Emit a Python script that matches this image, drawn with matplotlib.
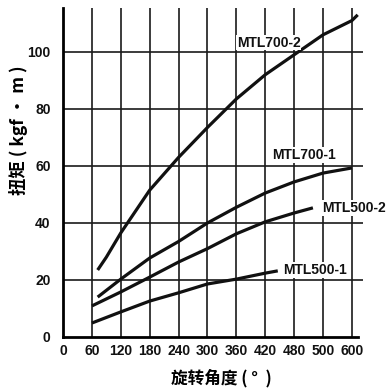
import matplotlib
matplotlib.use('Agg')
import matplotlib.pyplot as plt

# angle ticks (the 540 position is printed as "500" in the source chart)
x_ticks = [0, 60, 120, 180, 240, 300, 360, 420, 480, 540, 600]
x_tick_labels = ['0', '60', '120', '180', '240', '300', '360', '420', '480', '500', '600']
y_ticks = [0, 20, 40, 60, 80, 100]

# curves
mtl700_2_x = [72, 90, 120, 150, 180, 240, 300, 360, 420, 480, 540, 600, 612]
mtl700_2_y = [23.5, 28, 36.5, 44, 51.5, 63, 73.5, 83.5, 92, 99, 106, 111, 113]

mtl700_1_x = [72, 120, 180, 240, 300, 360, 420, 480, 540, 600]
mtl700_1_y = [14, 20.3, 27.7, 33.5, 40, 45.5, 50.5, 54.4, 57.5, 59.3]

mtl500_2_x = [60, 120, 180, 240, 300, 360, 420, 480, 519]
mtl500_2_y = [10.9, 15.8, 21, 26.3, 31, 36.2, 40.4, 43.5, 45.3]

mtl500_1_x = [60, 120, 180, 240, 300, 360, 420, 446]
mtl500_1_y = [4.9, 8.8, 12.6, 15.5, 18.6, 20.3, 22.4, 23.2]

names = ['MTL700-2', 'MTL700-1', 'MTL500-2', 'MTL500-1']
label_x = [361, 434, 538, 457]
label_y = [103.2, 63.9, 45.3, 23.5]

cjk = ['Noto Sans CJK SC', 'DejaVu Sans']
num_font = 'Liberation Sans'

fig = plt.figure(figsize=(3.87, 3.88), dpi=100)
ax = fig.add_axes([63 / 387, 51 / 388, 300 / 387, 329 / 388])

ax.set_xlim(0, 623)
ax.set_ylim(0, 115.4)

for xv in x_ticks[1:]:
    ax.axvline(xv, color='#1a1a1a', lw=1.2, zorder=1)
for yv in y_ticks[1:]:
    ax.axhline(yv, color='#1a1a1a', lw=1.2, zorder=1)

for xs, ys in [(mtl700_2_x, mtl700_2_y), (mtl700_1_x, mtl700_1_y),
               (mtl500_2_x, mtl500_2_y), (mtl500_1_x, mtl500_1_y)]:
    ax.plot(xs, ys, color='#111111', lw=2.3, solid_capstyle='butt', zorder=3)

for name, tx, ty in zip(names, label_x, label_y):
    ax.text(tx, ty, name, fontsize=10, fontweight='bold', family=num_font,
            color='#111111', ha='left', va='center', zorder=4,
            bbox=dict(facecolor='white', edgecolor='none', pad=0.5))

ax.spines['top'].set_visible(False)
ax.spines['right'].set_visible(False)
ax.spines['left'].set_linewidth(2.0)
ax.spines['bottom'].set_linewidth(2.0)
ax.spines['bottom'].set_bounds(0, 612)

ax.set_xticks(x_ticks)
ax.set_xticklabels(x_tick_labels)
ax.set_yticks(y_ticks)
ax.tick_params(length=0)
ax.tick_params(axis='x', pad=5)
ax.tick_params(axis='y', pad=9)
for lab in ax.get_xticklabels() + ax.get_yticklabels():
    lab.set_fontsize(10)
    lab.set_fontweight('bold')
    lab.set_family(num_font)
    lab.set_color('#111111')

ax.set_xlabel('旋转角度 ( °  )', fontsize=12, fontweight='bold', family=cjk)
ax.set_ylabel('扭矩 ( kgf · m )', fontsize=12.5, fontweight='bold', family=cjk)
ax.xaxis.set_label_coords(0.527, -0.097)
ax.yaxis.set_label_coords(-0.117, 0.629)

fig.savefig('out.png', dpi=100)
